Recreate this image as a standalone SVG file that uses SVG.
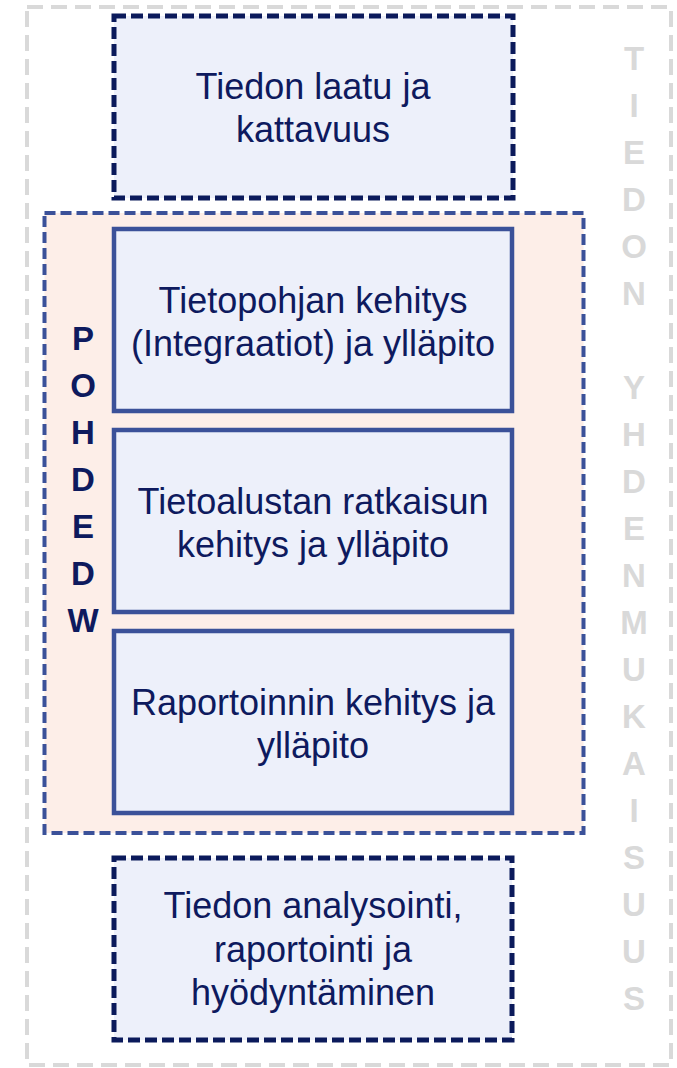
<svg xmlns="http://www.w3.org/2000/svg" width="677" height="1068" viewBox="0 0 677 1068">
<style>
.txt{font-family:"Liberation Sans",Arial,sans-serif;font-size:36px;fill:#0e1a5e;text-anchor:middle}
.vt{font-family:"Liberation Sans",Arial,sans-serif;font-size:33px;font-weight:bold;text-anchor:middle}
.dbox{fill:#edf0fa;stroke:#0b1a5b;stroke-width:5;stroke-dasharray:12 5}
.sbox{fill:#edf0fa;stroke:#3b5199;stroke-width:4.5}
</style>
<rect width="677" height="1068" fill="#ffffff"/>
<g id="outer">
<rect x="27" y="7" width="644" height="1058" fill="none" stroke="#d9d9d9" stroke-width="4" stroke-dasharray="16 8"/>
<text class="vt" fill="#d9d9d9"><tspan x="634" y="70">T</tspan><tspan x="634" y="117">I</tspan><tspan x="634" y="164">E</tspan><tspan x="634" y="211">D</tspan><tspan x="634" y="258">O</tspan><tspan x="634" y="305">N</tspan><tspan x="634" y="399">Y</tspan><tspan x="634" y="446">H</tspan><tspan x="634" y="493">D</tspan><tspan x="634" y="540">E</tspan><tspan x="634" y="587">N</tspan><tspan x="634" y="634">M</tspan><tspan x="634" y="681">U</tspan><tspan x="634" y="728">K</tspan><tspan x="634" y="775">A</tspan><tspan x="634" y="822">I</tspan><tspan x="634" y="869">S</tspan><tspan x="634" y="916">U</tspan><tspan x="634" y="963">U</tspan><tspan x="634" y="1010">S</tspan></text>
</g>
<g id="top">
<rect class="dbox" x="114" y="16" width="399" height="182"/>
<text class="txt"><tspan x="313" y="99">Tiedon laatu ja</tspan><tspan x="313" y="142">kattavuus</tspan></text>
</g>
<g id="pohdedw">
<rect x="44.5" y="213" width="539" height="620" fill="#fdeee8" stroke="#3b5199" stroke-width="4" stroke-dasharray="11 5"/>
<text class="vt" fill="#0e1a5e"><tspan x="83" y="350">P</tspan><tspan x="83" y="397">O</tspan><tspan x="83" y="444">H</tspan><tspan x="83" y="491">D</tspan><tspan x="83" y="538">E</tspan><tspan x="83" y="585">D</tspan><tspan x="83" y="632">W</tspan></text>
</g>
<g id="box1">
<rect class="sbox" x="114" y="229" width="398" height="182"/>
<text class="txt"><tspan x="313" y="312.5">Tietopohjan kehitys</tspan><tspan x="313" y="355.5">(Integraatiot) ja ylläpito</tspan></text>
</g>
<g id="box2">
<rect class="sbox" x="114" y="430" width="398" height="182"/>
<text class="txt"><tspan x="313" y="513.5">Tietoalustan ratkaisun</tspan><tspan x="313" y="556.5">kehitys ja ylläpito</tspan></text>
</g>
<g id="box3">
<rect class="sbox" x="114" y="631" width="398" height="182"/>
<text class="txt"><tspan x="313" y="714.5">Raportoinnin kehitys ja</tspan><tspan x="313" y="757.5">ylläpito</tspan></text>
</g>
<g id="bottom">
<rect class="dbox" x="114" y="858" width="398" height="182"/>
<text class="txt"><tspan x="313" y="918">Tiedon analysointi,</tspan><tspan x="313" y="961.5">raportointi ja</tspan><tspan x="313" y="1005">hyödyntäminen</tspan></text>
</g>
<g id="connectors"></g>
</svg>
